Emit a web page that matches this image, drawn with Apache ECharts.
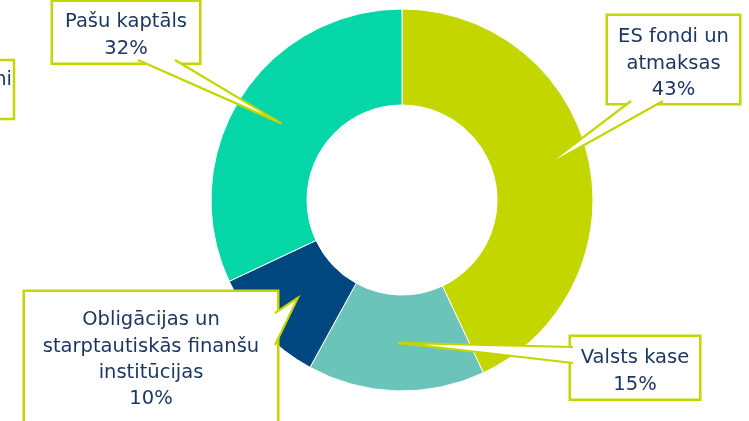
<!DOCTYPE html>
<html>
<head>
<meta charset="utf-8">
<script src="https://cdn.jsdelivr.net/npm/echarts@6/dist/echarts.min.js"></script>
<style>
html,body{margin:0;padding:0;background:#fff;}
#chart{width:749px;height:421px;}
</style>
</head>
<body>
<div id="chart"></div>
<script>
// ---- data ----
var categories = ['ES fondi un\natmaksas', 'Valsts kase', 'Obligācijas un\nstarptautiskās finanšu\ninstitūcijas', 'Pašu kaptāls'];
var values = [43, 15, 10, 32];
var colors = ['#c4d600', '#6bc4b9', '#00467f', '#04d6a8'];

// ---- layout of callout boxes (style/positions only) ----
var CENTER = [402, 200];
var R_IN = 95, R_OUT = 191;
var boxes = [
  {x: 673.5, y: 16, width: 131, padding: [8, 0, 0, 0], a: [631, 101], b: [663, 101]},
  {x: 635, y: 337, width: 128, padding: [8, 0, 1, 0], a: [573, 347], b: [573, 363]},
  {x: 151, y: 292, width: 252, padding: [15, 0, 30, 0], a: [275, 313], b: [275, 345]},
  {x: 126, y: 2, width: 146, padding: [7, 0, 1, 0], a: [138, 60], b: [175, 60]}
];
var BORDER = '#c4d600';
var TEXT = '#1d3763';
var FONT = '"DejaVu Sans", sans-serif';
var FS = 19.5;
var LH = 26.3;

var mainData = categories.map(function (c, i) {
  return {
    name: c, value: values[i],
    itemStyle: {color: colors[i]},
    label: {width: boxes[i].width, padding: boxes[i].padding}
  };
});

var baseGraphic = [
  {type: 'rect', shape: {x: -10, y: 60, width: 24, height: 59}, style: {fill: '#fff', stroke: BORDER, lineWidth: 2.5}},
  {type: 'text', x: 12, y: 80, style: {text: 'ni', fill: TEXT, font: FS + 'px ' + FONT, textAlign: 'right', textVerticalAlign: 'middle'}}
];

var chart = echarts.init(document.getElementById('chart'), null, {renderer: 'canvas'});
chart.setOption({
  animation: false,
  backgroundColor: '#fff',
  graphic: baseGraphic,
  series: [
    {
      type: 'pie',
      center: CENTER,
      radius: [R_IN, R_OUT],
      startAngle: 90,
      clockwise: true,
      silent: true,
      z: 2,
      itemStyle: {borderColor: '#fff', borderWidth: 1},
      label: {
        show: true,
        position: 'outside',
        formatter: '{b}\n{c}%',
        color: TEXT,
        fontFamily: FONT,
        fontSize: FS,
        lineHeight: LH,
        align: 'center',
        backgroundColor: '#fff',
        borderColor: BORDER,
        borderWidth: 2.5
      },
      labelLine: {show: false},
      labelLayout: function (p) {
        var b = boxes[p.dataIndex];
        return {x: b.x, y: b.y, align: 'center', verticalAlign: 'top'};
      },
      data: mainData
    }
  ]
});

// callout tails: tip at the middle of each ring segment
var tails = [];
try {
  var sData = chart.getModel().getSeriesByIndex(0).getData();
  for (var i = 0; i < categories.length; i++) {
    var L = sData.getItemLayout(i);
    var mid = (L.startAngle + L.endAngle) / 2;
    var rm = (L.r + L.r0) / 2;
    var tip = [L.cx + rm * Math.cos(mid), L.cy + rm * Math.sin(mid)];
    var b = boxes[i];
    tails.push({type: 'polygon', z: 100, silent: true, shape: {points: [b.a, tip, b.b]}, style: {fill: '#fff', stroke: null}});
    tails.push({type: 'polyline', z: 101, silent: true, shape: {points: [b.a, tip, b.b]}, style: {stroke: BORDER, lineWidth: 2.2, fill: null, lineJoin: 'miter'}});
  }
} catch (e) {}
chart.setOption({graphic: baseGraphic.concat(tails)});
</script>
</body>
</html>
